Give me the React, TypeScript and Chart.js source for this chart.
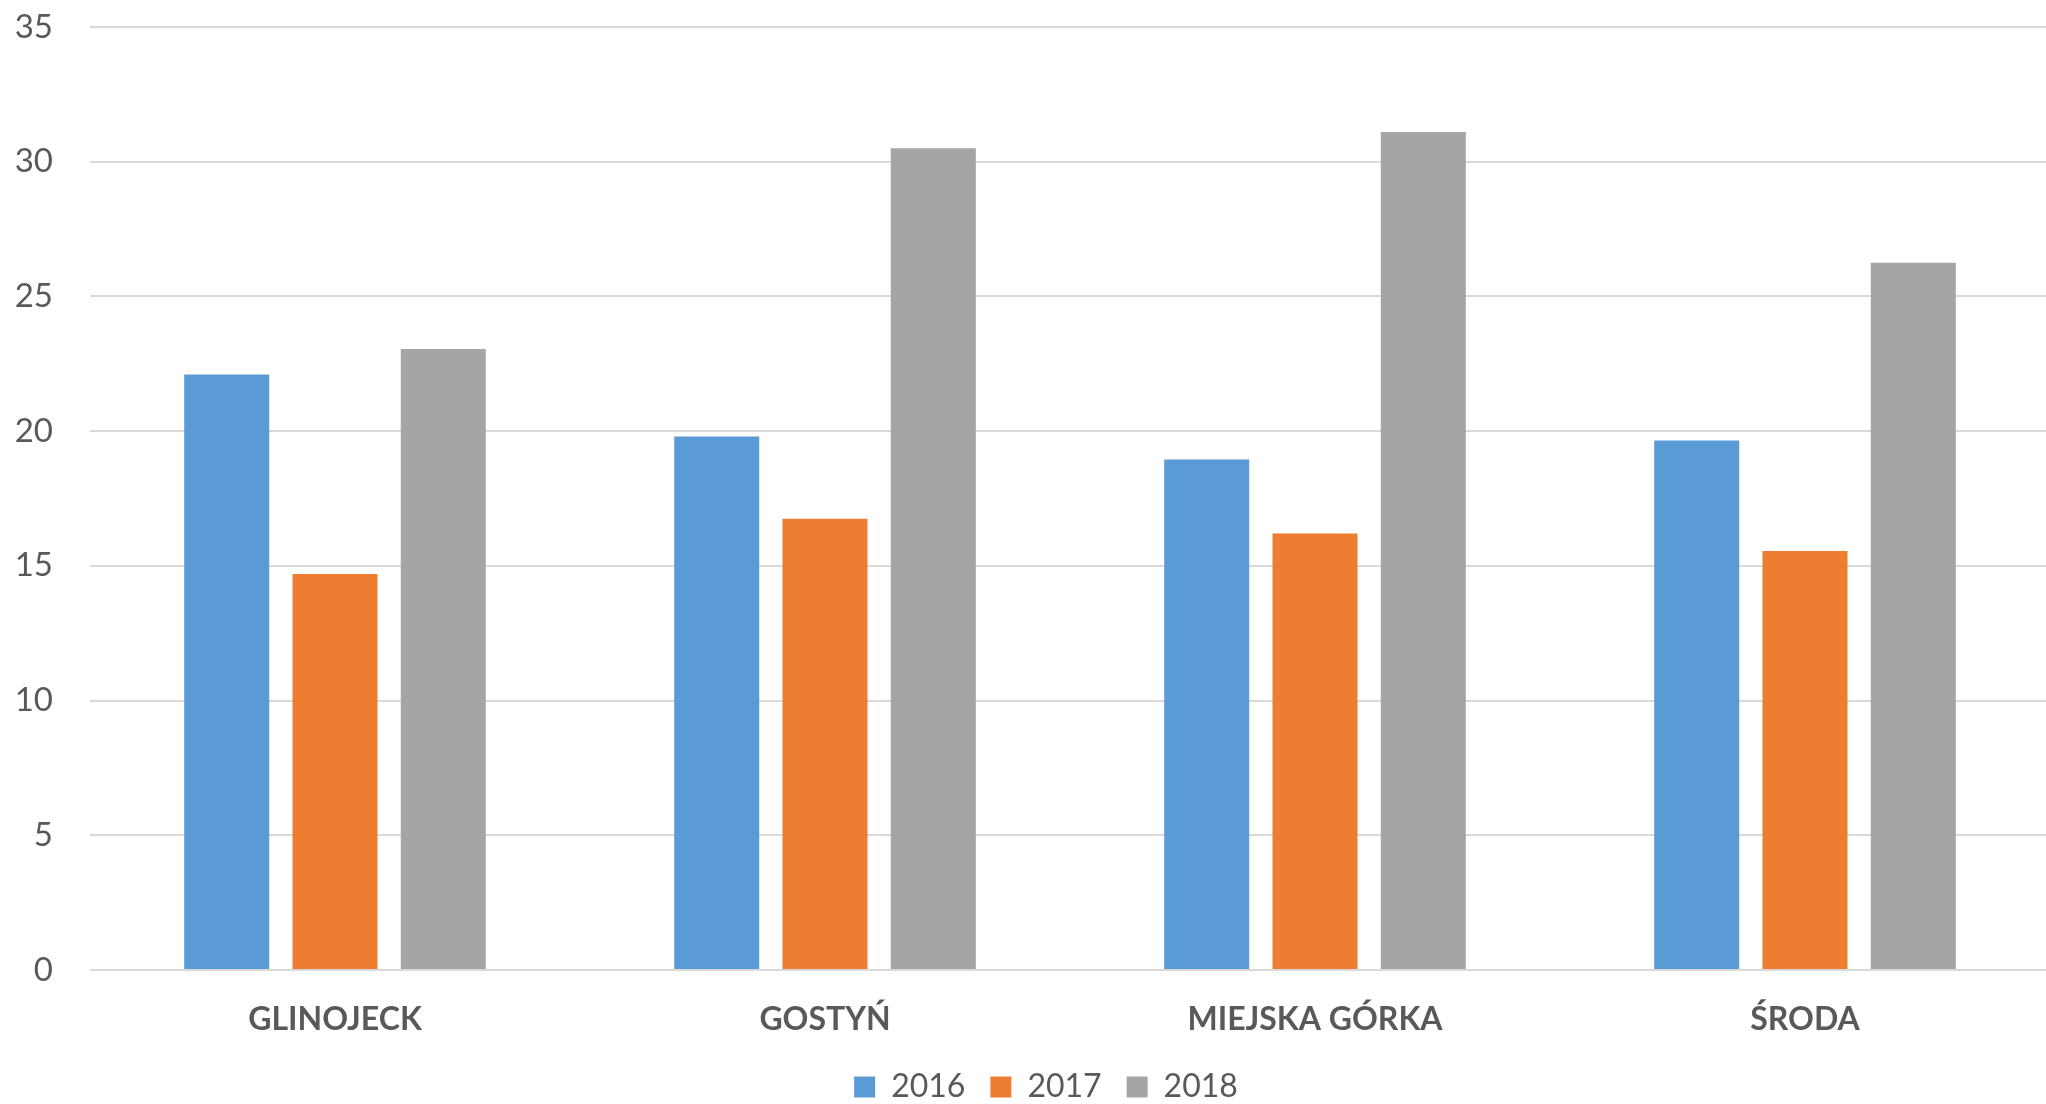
import React, { useEffect, useRef } from "react";
import { Chart, registerables } from "chart.js";

Chart.register(...registerables);

const categories = ["GLINOJECK", "GOSTYŃ", "MIEJSKA GÓRKA", "ŚRODA"];
const seriesNames = ["2016", "2017", "2018"];
const values2016 = [22.1, 19.8, 18.95, 19.65];
const values2017 = [14.7, 16.75, 16.2, 15.55];
const values2018 = [23.05, 30.5, 31.1, 26.25];
const seriesColors = ["#5B9BD5", "#ED7D31", "#A5A5A5"];
const yMax = 35;
const yStep = 5;

const FONT = "Lato, 'Open Sans', sans-serif";
const TEXT = "#595959";

const legendShift = {
  id: "legendShift",
  beforeDraw(chart: any) {
    const l = chart.legend;
    if (l) {
      l.left = 42;
      l.top = 1046;
      l.bottom = l.top + l.height;
    }
  },
};

export default function App() {
  const ref = useRef<HTMLCanvasElement | null>(null);
  useEffect(() => {
    if (!ref.current) return;
    const all = [values2016, values2017, values2018];
    const chart = new Chart(ref.current, {
      type: "bar",
      data: {
        labels: categories,
        datasets: seriesNames.map((name, i) => ({
          label: name,
          data: all[i],
          backgroundColor: seriesColors[i],
          borderWidth: 0,
          categoryPercentage: 0.663,
          barPercentage: 0.785,
        })),
      },
      plugins: [legendShift],
      options: {
        responsive: false,
        animation: false,
        layout: { padding: { left: 0, right: 0, top: 27, bottom: 0 } },
        plugins: {
          tooltip: { enabled: false },
          legend: {
            position: "bottom",
            labels: {
              boxWidth: 21,
              boxHeight: 21,
              padding: 25,
              color: TEXT,
              font: { family: FONT, size: 32 },
            },
          },
        },
        scales: {
          x: {
            grid: { display: false },
            border: { display: false },
            ticks: {
              color: TEXT,
              padding: 22,
              font: { family: FONT, size: 32, weight: "bold" },
              maxRotation: 0,
            },
            afterFit: (s: any) => {
              s.height = 67;
            },
          },
          y: {
            min: 0,
            max: yMax,
            grid: {
              color: "#D9D9D9",
              lineWidth: 2,
              drawTicks: true,
              tickLength: 37,
              tickColor: "rgba(0,0,0,0)",
            },
            border: { display: false },
            ticks: {
              stepSize: yStep,
              padding: 0,
              color: TEXT,
              font: { family: FONT, size: 33 },
            },
            afterFit: (s: any) => {
              s.width = 90;
            },
          },
        },
      },
    });
    return () => chart.destroy();
  }, []);
  return (
    <div
      style={{
        position: "absolute",
        left: 0,
        top: 0,
        width: 2046,
        height: 1104,
        overflow: "hidden",
        background: "#fff",
      }}
    >
      <canvas ref={ref} width={2050} height={1104} style={{ width: 2050, height: 1104, display: "block" }} />
    </div>
  );
}
